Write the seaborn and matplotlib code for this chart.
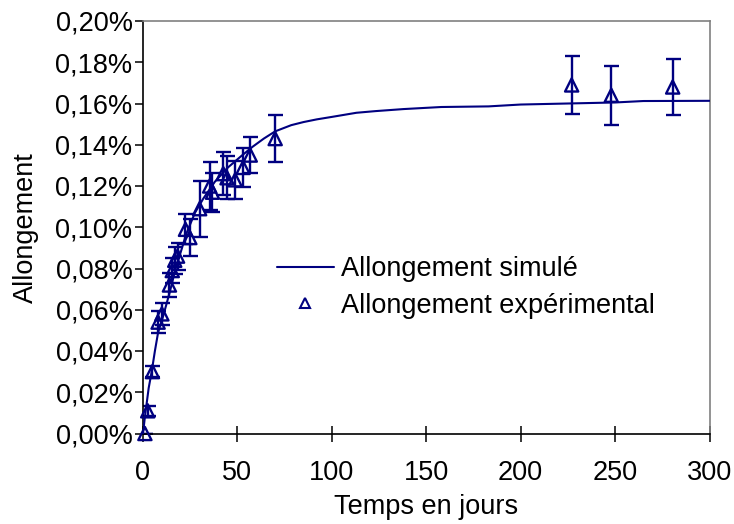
import numpy as np
import pandas as pd
import matplotlib
matplotlib.use("Agg")
import matplotlib.pyplot as plt
from matplotlib.lines import Line2D
from matplotlib.ticker import FuncFormatter, MultipleLocator
import seaborn as sns

# Simulated elongation curve (days, %)
sim_t = [0, 1, 2, 3, 4.6, 6.3, 8, 10.7, 14.3, 17, 20, 23, 27.5, 32, 38, 45, 52, 58, 64, 70,
         78.5, 85, 92, 100, 113, 123, 138, 158, 183, 200, 225, 250, 265, 300]
sim_y = [0, 0.008, 0.015, 0.022, 0.030, 0.040, 0.049, 0.057, 0.069, 0.079, 0.088, 0.097,
         0.107, 0.114, 0.122, 0.129, 0.1345, 0.139, 0.143, 0.1465, 0.1495, 0.151, 0.1523,
         0.1535, 0.1555, 0.1563, 0.1573, 0.1583, 0.1586, 0.1595, 0.1600, 0.1605, 0.1612, 0.1613]

# Experimental elongation (days, %, error %)
exp_t = [1, 2.5, 5, 8, 10, 14, 15.5, 16.8, 18.3, 22.5, 24.8, 30, 35.3, 36.8, 42.5, 44.5,
         48.8, 53, 56.8, 70, 227, 248, 280.5]
exp_y = [0, 0.011, 0.030, 0.054, 0.058, 0.072, 0.079, 0.084, 0.086, 0.099, 0.095, 0.109,
         0.120, 0.117, 0.126, 0.124, 0.123, 0.129, 0.135, 0.143, 0.169, 0.164, 0.168]
exp_err = [0, 0.0024, 0.0027, 0.0055, 0.0055, 0.006, 0.006, 0.0065, 0.0065, 0.0073, 0.009,
           0.0136, 0.0117, 0.0095, 0.0105, 0.0105, 0.0093, 0.0093, 0.0089, 0.0113, 0.0142,
           0.0143, 0.0137]

labels = ["Allongement simulé", "Allongement expérimental"]
x_label = "Temps en jours"
y_label = "Allongement"

sns.set_style("white")
plt.rcParams["font.family"] = ["Liberation Sans", "DejaVu Sans"]
plt.rcParams["text.color"] = "black"
plt.rcParams["axes.labelcolor"] = "black"
plt.rcParams["xtick.color"] = "black"
plt.rcParams["ytick.color"] = "black"

NAVY = "#000080"
FS = 19.5

fig = plt.figure(figsize=(7.34, 5.24), dpi=100)
ax = fig.add_axes([143 / 734, 1 - 433.5 / 524, (709.5 - 143) / 734, (433.5 - 21) / 524])

sim_df = pd.DataFrame({"t": sim_t, "y": sim_y})
exp_df = pd.DataFrame({"t": exp_t, "y": exp_y, "err": exp_err})

ax.errorbar(exp_df["t"], exp_df["y"], yerr=exp_df["err"], fmt="none", ecolor=NAVY,
            elinewidth=1.7, capsize=5.4, capthick=1.7, zorder=2)
sns.lineplot(data=sim_df, x="t", y="y", ax=ax, color=NAVY, linewidth=1.5, zorder=3)
sns.scatterplot(data=exp_df, x="t", y="y", ax=ax, marker="^", s=90, facecolors="none",
                edgecolor=NAVY, linewidth=1.7, zorder=4, clip_on=False)

ax.set_xlim(0, 300)
ax.set_ylim(0, 0.20)
ax.xaxis.set_major_locator(MultipleLocator(50))
ax.yaxis.set_major_locator(MultipleLocator(0.02))
ax.yaxis.set_major_formatter(FuncFormatter(lambda v, p: f"{v:.2f}%".replace(".", ",")))

ax.tick_params(axis="x", direction="inout", length=12, width=1.1, labelsize=FS, pad=13,
               color="black", labelcolor="black", bottom=True)
ax.tick_params(axis="y", direction="out", length=6, width=1.1, labelsize=FS, pad=1.5,
               color="black", labelcolor="black", left=True)

for side in ["left", "bottom"]:
    ax.spines[side].set_color("black")
    ax.spines[side].set_linewidth(1.2)
for side in ["top", "right"]:
    ax.spines[side].set_color("#808080")
    ax.spines[side].set_linewidth(1.2)
    ax.spines[side].set_visible(True)

ax.set_xlabel(x_label, fontsize=FS, labelpad=6, color="black")
ax.set_ylabel(y_label, fontsize=FS, labelpad=12, color="black")

handles = [
    Line2D([], [], color=NAVY, linewidth=1.5),
    Line2D([], [], color=NAVY, marker="^", linestyle="none", markersize=6.5,
           markerfacecolor="none", markeredgewidth=1.5),
]
leg = fig.legend(handles, labels, loc="upper left", bbox_to_anchor=(277 / 734, 1 - 256 / 524),
                 bbox_transform=fig.transFigure, frameon=False, fontsize=FS, handlelength=2.1,
                 handletextpad=0.25, borderpad=0, borderaxespad=0, labelspacing=0.4)
for txt in leg.get_texts():
    txt.set_color("black")

fig.savefig("out.png", dpi=100)
